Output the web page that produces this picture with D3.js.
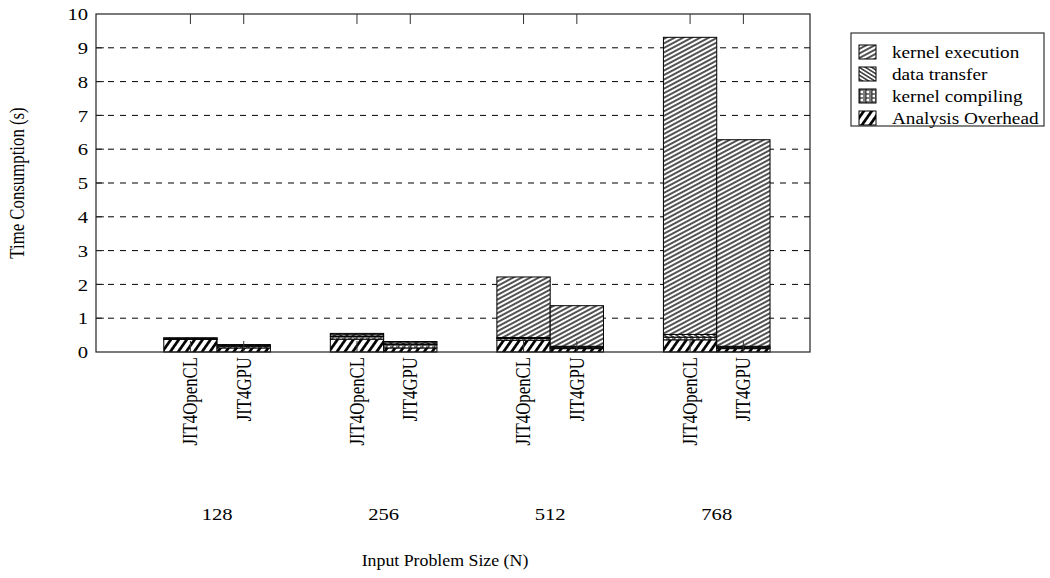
<!DOCTYPE html>
<html>
<head>
<meta charset="utf-8">
<script src="https://cdn.jsdelivr.net/npm/d3@7"></script>
<style>
  html, body { margin: 0; padding: 0; background: #fff; }
</style>
</head>
<body>
<svg id="chart" width="1050" height="578"></svg>
<script>
// Problem sizes and the two compilers compared at each size
const sizes = ["128", "256", "512", "768"];
const compilers = ["JIT4OpenCL", "JIT4GPU"];

// Time components (seconds), one value per size, stacked bottom-up
const overheadOpenCL  = [0.37, 0.38, 0.35, 0.36];
const compilingOpenCL = [0.02, 0.08, 0.05, 0.08];
const transferOpenCL  = [0.02, 0.05, 0.03, 0.08];
const kernelOpenCL    = [0.01, 0.04, 1.79, 8.79];

const overheadGPU  = [0.12, 0.12, 0.10, 0.10];
const compilingGPU = [0.05, 0.10, 0.04, 0.04];
const transferGPU  = [0.03, 0.05, 0.03, 0.03];
const kernelGPU    = [0.02, 0.04, 1.20, 6.11];

const yTicks = [0, 1, 2, 3, 4, 5, 6, 7, 8, 9, 10];

// Stack order (bottom to top) and legend order (top to bottom)
const stackKeys = ["overhead", "compiling", "transfer", "kernel"];
const legendItems = [
  { key: "kernel", label: "kernel execution" },
  { key: "transfer", label: "data transfer" },
  { key: "compiling", label: "kernel compiling" },
  { key: "overhead", label: "Analysis Overhead" }
];

const rows = [];
sizes.forEach((s, i) => {
  rows.push({ group: i, slot: 0, compiler: compilers[0], overhead: overheadOpenCL[i],
    compiling: compilingOpenCL[i], transfer: transferOpenCL[i], kernel: kernelOpenCL[i] });
  rows.push({ group: i, slot: 1, compiler: compilers[1], overhead: overheadGPU[i],
    compiling: compilingGPU[i], transfer: transferGPU[i], kernel: kernelGPU[i] });
});

const SERIF = "'Liberation Serif', 'Times New Roman', 'DejaVu Serif', serif";
const WIDE = 1.25; // horizontal stretch of the lettering
const svg = d3.select("#chart");
const plotLeft = 96, plotRight = 810, plotTop = 14, plotBottom = 352;

const x = d3.scaleLinear().domain([-0.727, 3.56]).range([plotLeft, plotRight]);
const barW = 0.32; // bar width in group units
const y = d3.scaleLinear().domain([0, 10]).range([plotBottom, plotTop]);

// Hatch patterns
const defs = svg.append("defs");
function linePattern(id, spacing, angle, width) {
  const p = defs.append("pattern").attr("id", id)
    .attr("patternUnits", "userSpaceOnUse")
    .attr("width", 20).attr("height", spacing)
    .attr("patternTransform", `rotate(${angle})`);
  p.append("rect").attr("width", 20).attr("height", spacing).attr("fill", "#fff");
  p.append("line").attr("x1", 0).attr("x2", 20).attr("y1", spacing / 2).attr("y2", spacing / 2)
    .attr("stroke", "#000").attr("stroke-width", width);
}
linePattern("pat-kernel", 4, -28, 1.35);
linePattern("pat-transfer", 3.3, 32, 1.2);
linePattern("pat-overhead", 6.5, -55, 2.7);
{
  const p = defs.append("pattern").attr("id", "pat-compiling")
    .attr("patternUnits", "userSpaceOnUse").attr("width", 6).attr("height", 4);
  p.append("rect").attr("width", 6).attr("height", 4).attr("fill", "#fff");
  p.append("path").attr("d", "M0,1 L6,1 M0,3 L3,3").attr("stroke", "#000").attr("stroke-width", 1);
  p.append("path").attr("d", "M3,0 L3,4").attr("stroke", "#000").attr("stroke-width", 0.8);
}
const fillFor = k => `url(#pat-${k})`;

// Dashed horizontal grid lines
svg.append("g").selectAll("line")
  .data(yTicks.filter(t => t > 0 && t < 10))
  .join("line")
  .attr("x1", plotLeft).attr("x2", plotRight)
  .attr("y1", d => y(d)).attr("y2", d => y(d))
  .attr("stroke", "#000").attr("stroke-width", 1)
  .attr("stroke-dasharray", "6,6");

// Stacked bars
const stacked = d3.stack().keys(stackKeys)(rows);
const barsG = svg.append("g");
stacked.forEach(layer => {
  barsG.append("g").selectAll("rect")
    .data(layer)
    .join("rect")
    .attr("x", d => x(d.data.group - barW + d.data.slot * barW))
    .attr("width", x(barW) - x(0))
    .attr("y", d => y(d[1]))
    .attr("height", d => y(d[0]) - y(d[1]))
    .attr("fill", fillFor(layer.key))
    .attr("stroke", "#000").attr("stroke-width", 1);
});

// Bar centres for compiler ticks
const barCentre = r => x(r.group - barW / 2 + r.slot * barW);

// Frame
svg.append("rect").attr("x", plotLeft).attr("y", plotTop)
  .attr("width", plotRight - plotLeft).attr("height", plotBottom - plotTop)
  .attr("fill", "none").attr("stroke", "#222").attr("stroke-width", 1.2);

// Left axis
const yAxis = d3.axisLeft(y).tickValues(yTicks).tickSize(0).tickPadding(0);
svg.append("g").attr("transform", `translate(${plotLeft},0)`).call(yAxis)
  .call(g => g.select(".domain").remove())
  .call(g => g.selectAll("text")
    .style("font-family", SERIF).style("font-size", "16.5px")
    .attr("x", -8 / WIDE).attr("dy", "0.34em")
    .attr("transform", `scale(${WIDE},1)`));
svg.append("g").selectAll("line").data(yTicks.filter(t => t > 0 && t < 10)).join("line")
  .attr("x1", plotLeft).attr("x2", plotLeft + 8)
  .attr("y1", d => y(d)).attr("y2", d => y(d))
  .attr("stroke", "#222");

// Tick marks at bar centres, top and bottom
svg.append("g").selectAll("line").data(rows).join("line")
  .attr("x1", barCentre).attr("x2", barCentre)
  .attr("y1", plotTop).attr("y2", plotTop + 10).attr("stroke", "#333");
svg.append("g").selectAll("line").data(rows).join("line")
  .attr("x1", barCentre).attr("x2", barCentre)
  .attr("y1", plotBottom).attr("y2", plotBottom - 11).attr("stroke", "#333");

// Compiler labels, rotated
svg.append("g").selectAll("text").data(rows).join("text")
  .attr("transform", d => `translate(${barCentre(d)},${plotBottom + 5}) rotate(-90) scale(1,${WIDE})`)
  .attr("text-anchor", "end").attr("dy", "0.33em")
  .style("font-family", SERIF).style("font-size", "16.8px")
  .text(d => d.compiler);

// Problem size labels
svg.append("g").selectAll("text").data(sizes).join("text")
  .attr("transform", (d, i) => `translate(${x(i)},520) scale(${WIDE},1)`)
  .attr("text-anchor", "middle")
  .style("font-family", SERIF).style("font-size", "16.5px")
  .text(d => d);

// Axis titles
svg.append("text").attr("transform", "translate(445,566) scale(1.08,1)")
  .attr("text-anchor", "middle")
  .style("font-family", SERIF).style("font-size", "16.5px")
  .text("Input Problem Size (N)");
svg.append("text")
  .attr("transform", `translate(24,${(plotTop + plotBottom) / 2}) rotate(-90) scale(1,${WIDE})`)
  .attr("text-anchor", "middle")
  .style("font-family", SERIF).style("font-size", "16.8px")
  .text("Time Consumption (s)");

// Legend
const lg = svg.append("g").attr("transform", "translate(851,33)");
lg.append("rect").attr("width", 193).attr("height", 93)
  .attr("fill", "#fff").attr("stroke", "#333").attr("stroke-width", 1.2);
legendItems.forEach((it, i) => {
  const cy = 19 + i * 22;
  lg.append("rect").attr("x", 8).attr("y", cy - 7).attr("width", 17).attr("height", 14)
    .attr("fill", fillFor(it.key)).attr("stroke", "#000");
  lg.append("text").attr("transform", `translate(41,${cy}) scale(1.2,1)`).attr("dy", "0.35em")
    .style("font-family", SERIF).style("font-size", "16px").text(it.label);
});
</script>
</body>
</html>
